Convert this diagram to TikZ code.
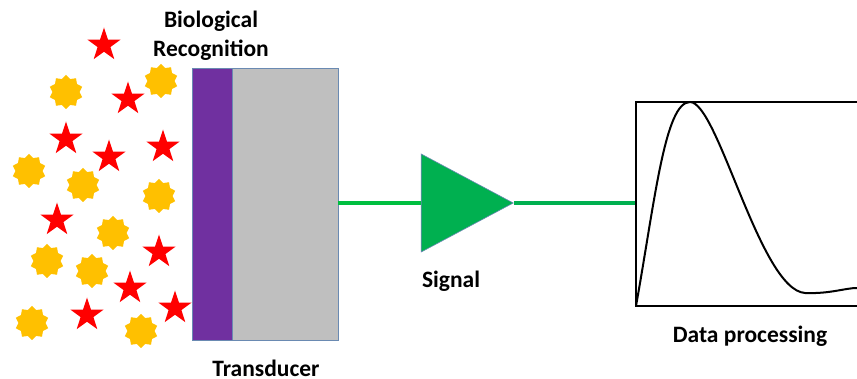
\documentclass[tikz,border=0pt]{standalone}
\usepackage{fontspec}
\setmainfont{Carlito}
\usetikzlibrary{shapes.geometric}
\definecolor{bioviolet}{HTML}{7030A0}
\definecolor{transgray}{HTML}{BFBFBF}
\definecolor{edgeblue}{HTML}{6A8AB2}
\definecolor{sigGreen}{HTML}{00B050}
\definecolor{goldy}{HTML}{FFC000}

\tikzset{
  lbl/.style={font=\fontsize{23.5}{29}\selectfont\bfseries, align=center},
  redstar/.style={star, star points=5, star point ratio=2.6, fill=red, inner sep=0, minimum size=35pt},
  gear/.style={star, star points=10, star point ratio=1.25, fill=goldy, inner sep=0, minimum size=34pt},
  layer/.style={draw=edgeblue, line width=0.8pt, inner sep=0, minimum height=272pt}
}

\begin{document}
\begin{tikzpicture}[x=1pt,y=-1pt]
      \useasboundingbox (0,0) rectangle (857,379);
      % analytes
      \foreach \x/\y [count=\i] in {104/45,128/99,66/139,109/157,163/147,57/220,159/252,130/288,87/315,175/308}
        \node[redstar] (star\i) at (\x,\y) {};
      \foreach \x/\y [count=\i] in {66/92,161/81,29/171,83/185,159/196,113/233,47/261,92/271,32/323,141/331}
        \node[gear] (gear\i) at (\x,\y) {};
      % sensor
      \node[layer, fill=transgray, minimum width=106pt] (trans) at (285,204) {};
      \node[layer, fill=bioviolet, minimum width=40pt] (bio) at (212,204) {};
      \node[lbl] (biolbl) at (211,36) {Biological\\Recognition};
      \node[lbl] (translbl) at (266,368) {Transducer};
      % amplifier (width = base, height = apex to base)
      \node[isosceles triangle, isosceles triangle stretches, shape border rotate=0,
            minimum width=98pt, minimum height=92pt, inner sep=0,
            fill=sigGreen, draw=edgeblue, line width=0.6pt, anchor=apex] (amp) at (514,203) {};
      \node[lbl] (siglbl) at (451,281) {Signal};
      \coordinate (scr) at (636,203);
      \draw[line width=4pt, green!50!teal] (trans.east |- amp.west) -- (amp.west);
      \draw[line width=4pt, sigGreen] (amp.apex) -- (scr);
      % output
      \draw[line width=2pt] (857,102) -- (636,102) -- (636,306) -- (857,306);
      \draw[line width=2pt] (636,306) .. controls (655,200) and (665,102) .. (690,102)
            .. controls (718,102) and (760,290) .. (805,293)
            .. controls (830,294) and (845,288) .. (857,288);
      \node[lbl] (datalbl) at (750,336) {Data processing};
\end{tikzpicture}
\end{document}
